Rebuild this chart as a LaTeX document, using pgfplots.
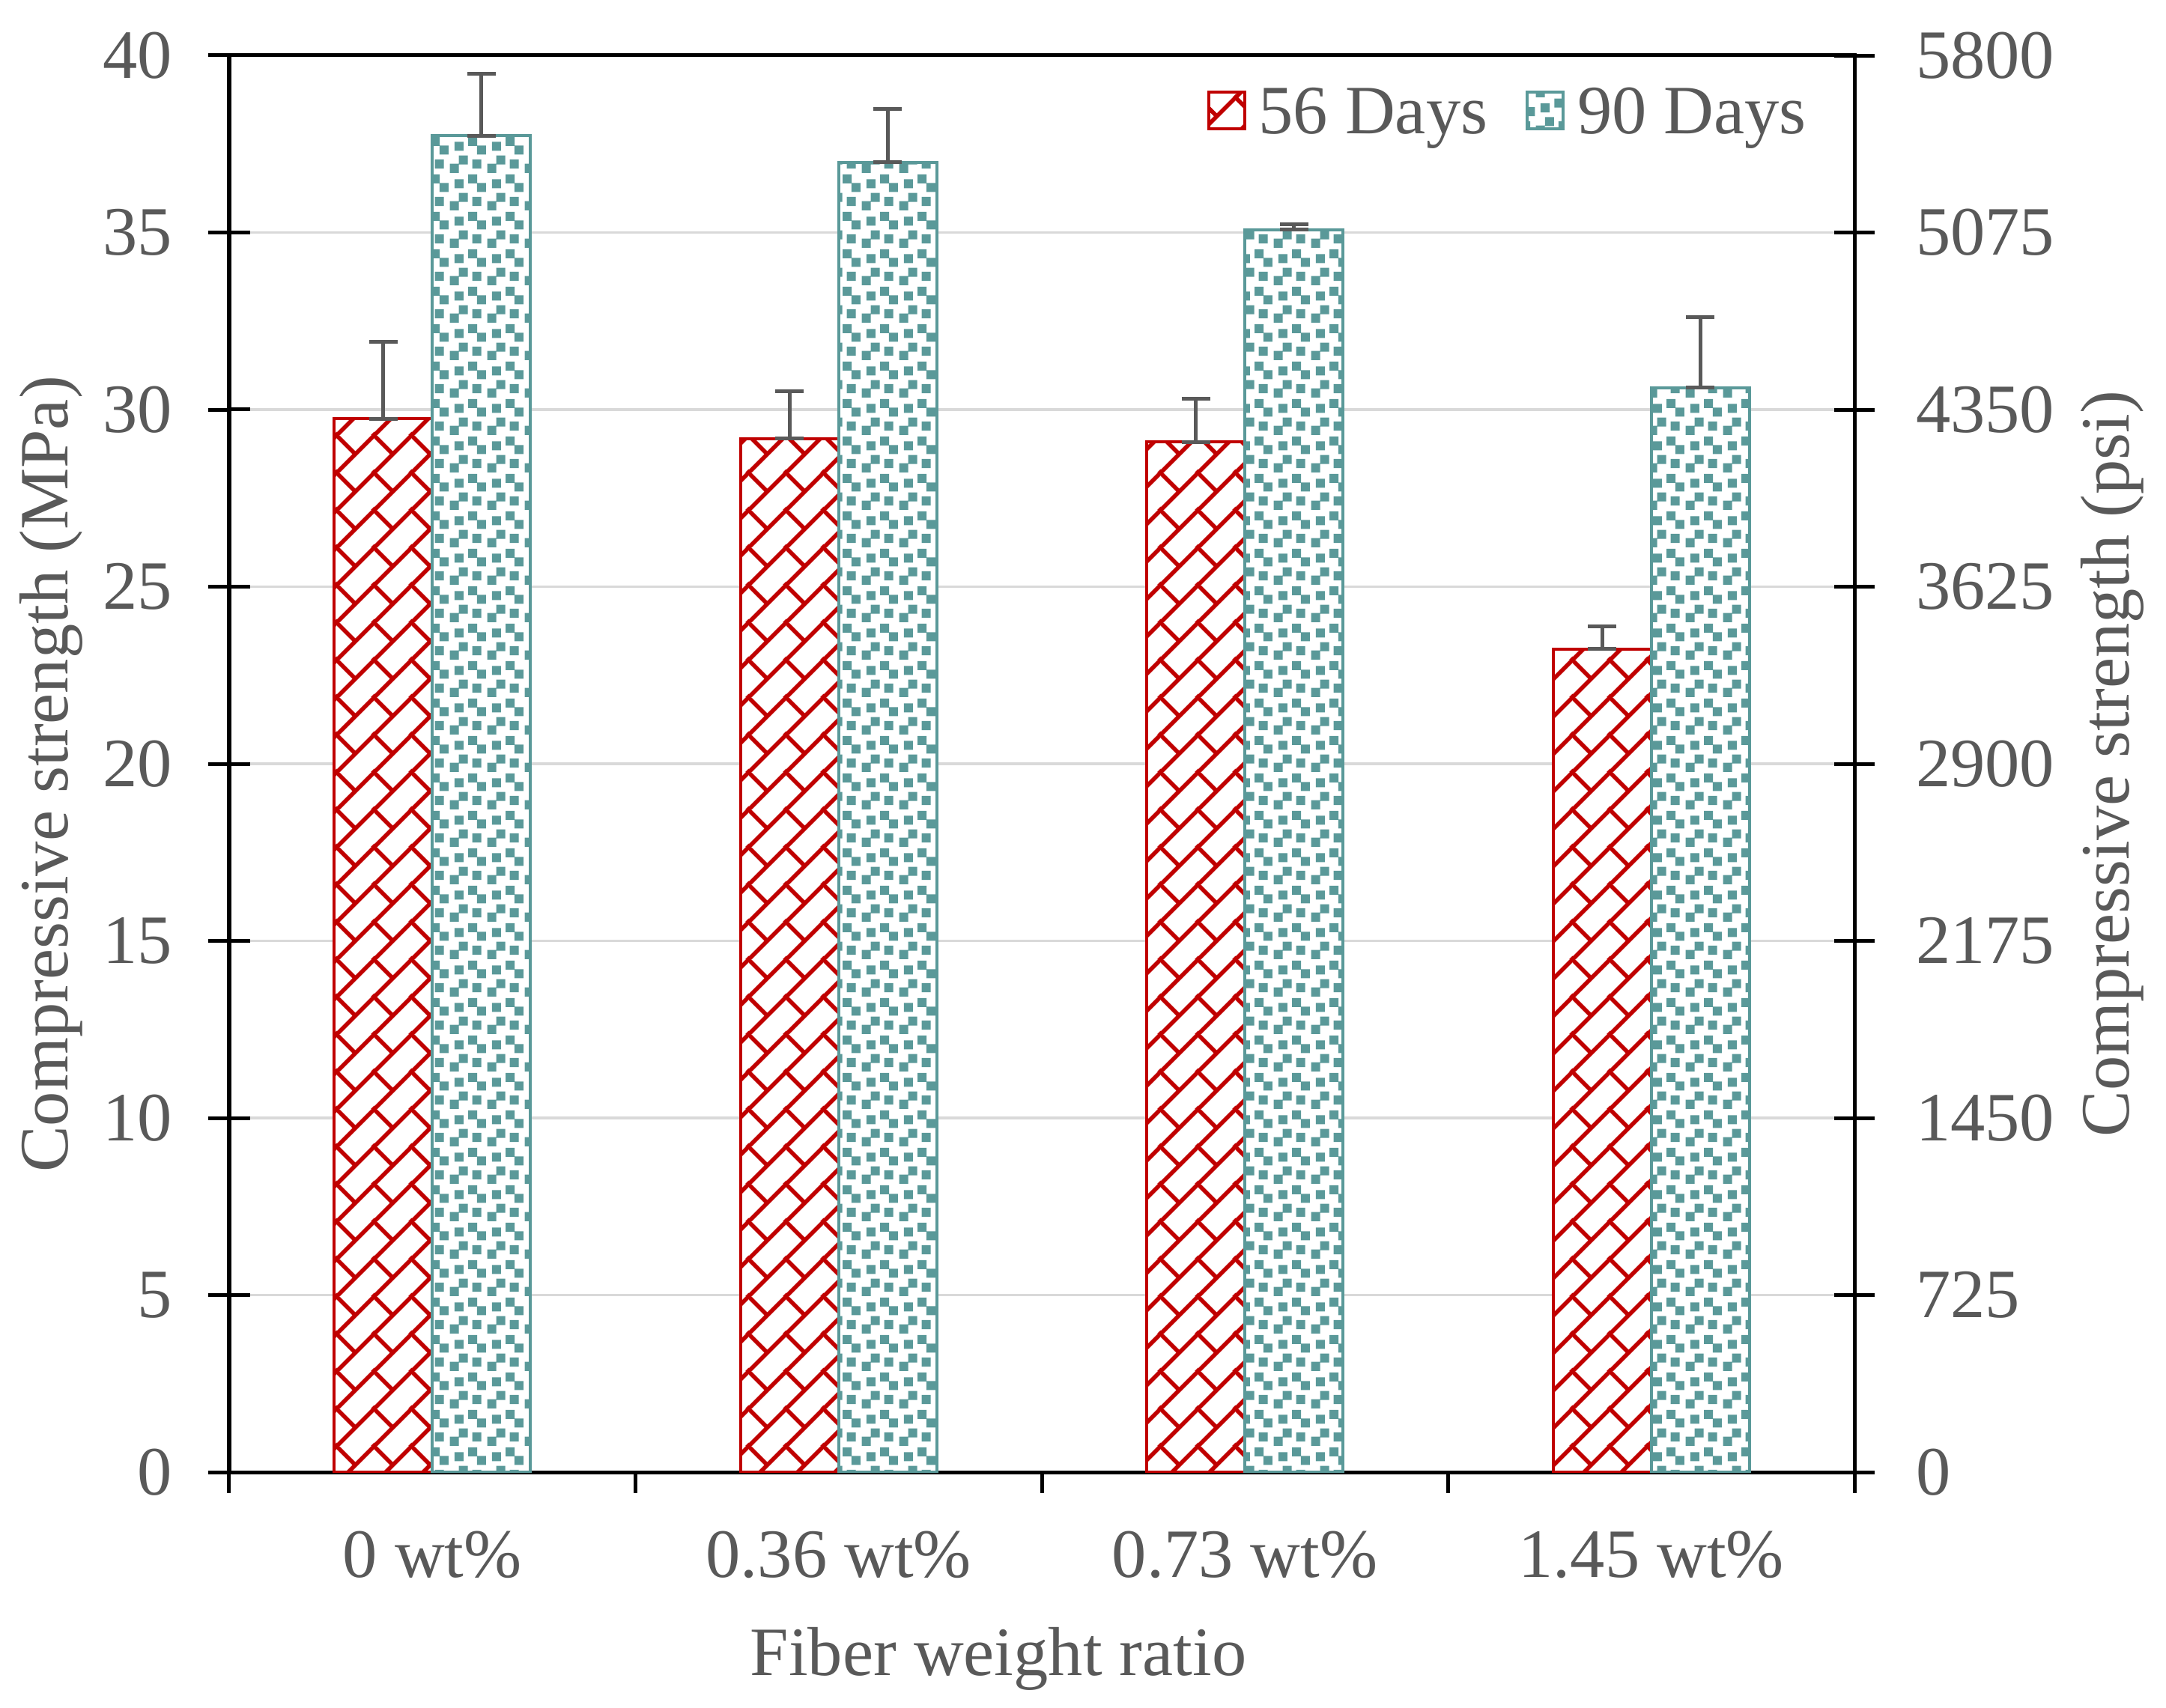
\documentclass[border=0pt]{standalone}
\usepackage{fontspec}
\setmainfont{Liberation Serif}
\usepackage{pgfplots}
\usepackage{pgfplotstable}
\pgfplotsset{compat=1.18}
\usetikzlibrary{patterns}

\definecolor{barred}{HTML}{C00000}
\definecolor{barteal}{HTML}{5A9999}
\definecolor{txtgrey}{HTML}{595959}
\definecolor{gridgrey}{HTML}{D9D9D9}

% diagonal brick (56 days)
\pgfdeclarepatternformonly{diagbrick}{\pgfpoint{0pt}{0pt}}{\pgfpoint{10pt}{10pt}}{\pgfpoint{10pt}{10pt}}{
  \pgfsetlinewidth{1.1pt}
  \pgfpathmoveto{\pgfpoint{-1pt}{-1pt}}\pgfpathlineto{\pgfpoint{11pt}{11pt}}
  \pgfpathmoveto{\pgfpoint{-0.5pt}{10.5pt}}\pgfpathlineto{\pgfpoint{5pt}{5pt}}
  \pgfpathmoveto{\pgfpoint{9.5pt}{-0.5pt}}\pgfpathlineto{\pgfpoint{10.5pt}{0.5pt}}
  \pgfusepath{stroke}
}
% large confetti (90 days)
\pgfdeclarepatternformonly{confetti}{\pgfpoint{0pt}{0pt}}{\pgfpoint{10pt}{10pt}}{\pgfpoint{10pt}{10pt}}{
  \pgfpathrectangle{\pgfpoint{1.4pt}{6.04pt}}{\pgfpoint{2.45pt}{2.45pt}}
  \pgfpathrectangle{\pgfpoint{5.12pt}{7.34pt}}{\pgfpoint{2.45pt}{2.45pt}}
  \pgfpathrectangle{\pgfpoint{7.5pt}{5.02pt}}{\pgfpoint{2.45pt}{2.45pt}}
  \pgfpathrectangle{\pgfpoint{2.58pt}{2.34pt}}{\pgfpoint{2.45pt}{2.45pt}}
  \pgfpathrectangle{\pgfpoint{0.12pt}{0.05pt}}{\pgfpoint{2.45pt}{2.45pt}}
  \pgfpathrectangle{\pgfpoint{6.24pt}{1.22pt}}{\pgfpoint{2.45pt}{2.45pt}}
  \pgfusepath{fill}
}

% compressive strength (MPa), upper error
\pgfplotstableread{
x  s56    e56   s90    e90   z
0  29.74  2.18  37.73  1.75  0
1  29.18  1.34  36.98  1.50  0
2  29.09  1.22  35.08  0.15  0
3  23.24  0.65  30.62  2.00  0
}\strength

\begin{document}
\begin{tikzpicture}
\path[use as bounding box] (0,0) rectangle (578.4pt,456pt);
\pgfplotsset{
  every axis/.append style={
    scale only axis, width=434pt, height=378.4pt,
    at={(61.2pt,62.8pt)}, anchor=south west,
    font=\fontsize{18.5}{22}\selectfont,
    /pgf/number format/assume math mode=true,
    /pgf/number format/1000 sep={},
    axis line style={black, line width=1pt},
    tick style={black, line width=1pt},
    xmin=-0.5, xmax=3.5,
  },
}

\begin{axis}[
  ymin=0, ymax=40,
  ybar=0pt, bar width=0.2415,
  xtick={-0.5,0.5,1.5,2.5,3.5},
  xticklabels={0 wt\%,0.36 wt\%,0.73 wt\%,1.45 wt\%},
  x tick label as interval,
  ytick={0,5,...,40},
  xtick pos=left, ytick pos=left,
  tick align=outside, major tick length=5.5pt,
  ymajorgrids, grid style={gridgrey, line width=0.7pt},
  xticklabel style={text=txtgrey, anchor=base, inner sep=0pt, yshift=-22.5pt},
  yticklabel style={text=txtgrey, anchor=east, inner sep=0pt, xshift=-9.5pt},
  xlabel={Fiber weight ratio},
  ylabel={Compressive strength (MPa)},
  every axis x label/.style={at={(axis description cs:0.4733,0)}, anchor=base, yshift=-54.2pt, text=txtgrey},
  every axis y label/.style={at={(axis description cs:-0.0995,0.4926)}, anchor=base, rotate=90, text=txtgrey},
  legend columns=2,
  legend style={draw=none, fill=none, inner sep=0pt, outer sep=0pt,
    at={(axis description cs:0.9705,0.9592)}, anchor=base east,
    column sep=3.4pt, nodes={inner sep=0pt, text=txtgrey},
    /tikz/every even column/.append style={column sep=10.2pt}},
  legend image code/.code={\draw[#1, line width=0.8pt] (0pt,-4.2pt) rectangle (9.6pt,5.6pt);},
]
\addplot[draw=barred, line width=0.8pt, fill=white,
  postaction={pattern=diagbrick, pattern color=barred},
  error bars/.cd, y dir=both, y explicit,
  error bar style={line width=1pt, draw=txtgrey},
  error mark options={rotate=90, line width=1pt, draw=txtgrey, mark size=3.8pt}]
  table[x=x, y=s56, y error plus=e56, y error minus=z] {\strength};
\addplot[draw=barteal, line width=0.8pt, fill=white,
  postaction={pattern=confetti, pattern color=barteal},
  error bars/.cd, y dir=both, y explicit,
  error bar style={line width=1pt, draw=txtgrey},
  error mark options={rotate=90, line width=1pt, draw=txtgrey, mark size=3.8pt}]
  table[x=x, y=s90, y error plus=e90, y error minus=z] {\strength};
\legend{56 Days, 90 Days}
\end{axis}

% inner half of the left y ticks
\begin{axis}[
  ymin=0, ymax=40,
  axis x line=none, axis y line*=left,
  ytick={0,5,...,40}, yticklabels={},
  tick align=inside, major tick length=5.5pt,
]
\end{axis}

% right axis in psi
\begin{axis}[
  ymin=0, ymax=5800,
  axis x line=none, axis y line*=right,
  ytick={0,725,1450,2175,2900,3625,4350,5075,5800},
  tick align=center, major tick length=10.8pt,
  yticklabel style={text=txtgrey, anchor=west, inner sep=0pt, xshift=10.8pt},
  ylabel={Compressive strength (psi)},
  every axis y label/.style={at={(axis description cs:1.169,0.5)}, anchor=base, rotate=90, text=txtgrey},
]
\end{axis}
\end{tikzpicture}
\end{document}
